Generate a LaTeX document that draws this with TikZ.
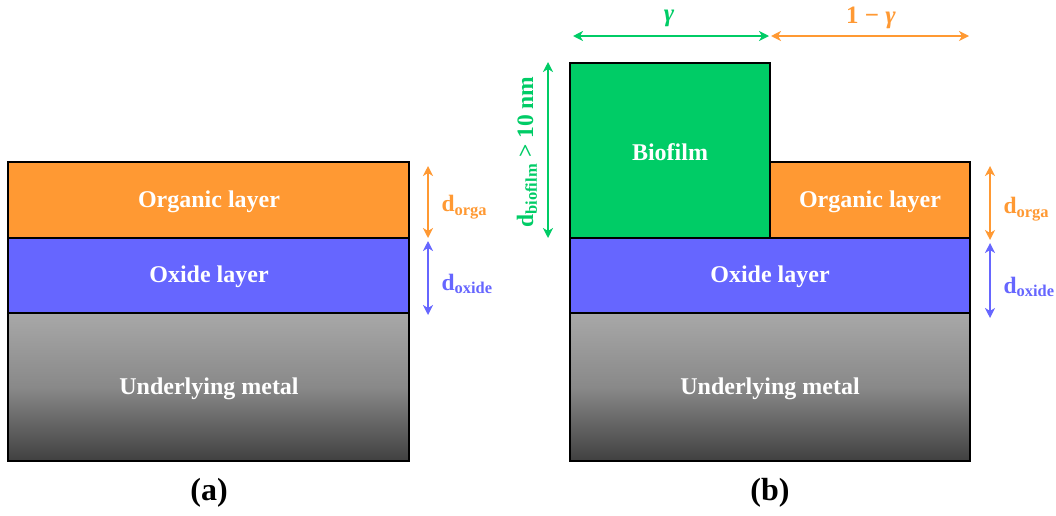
\documentclass[tikz,border=0pt]{standalone}
\usepackage{fontspec}
\setmainfont{Liberation Serif}
\usetikzlibrary{arrows.meta}
\definecolor{orga}{RGB}{255,153,51}
\definecolor{oxide}{RGB}{102,102,255}
\definecolor{bio}{RGB}{0,204,102}
\definecolor{mtop}{RGB}{168,168,168}
\definecolor{mbot}{RGB}{64,64,64}
\tikzset{
  layer/.style={draw=black, line width=1.2pt, inner sep=0pt},
  ltext/.style={text=white, font=\fontsize{24}{28}\selectfont\bfseries},
  dim/.style={line width=2pt, {Stealth[length=10pt,width=10pt,inset=3pt]}-{Stealth[length=10pt,width=10pt,inset=3pt]}},
  dlab/.style={font=\fontsize{23.5}{28}\selectfont\bfseries, anchor=west},
  captext/.style={font=\fontsize{32}{36}\selectfont\bfseries},
  toplab/.style={font=\fontsize{25}{28}\selectfont\bfseries},
}
\begin{document}
\begin{tikzpicture}[x=1pt,y=-1pt]
\useasboundingbox (0,0) rectangle (1056,515);
% (a)
\draw[layer, fill=orga] (8,162) rectangle (409,238);
\draw[layer, fill=oxide] (8,238) rectangle (409,313);
\draw[layer, top color=mtop, bottom color=mbot, middle color=mtop!70!mbot] (8,313) rectangle (409,461);
\node[ltext] (ta1) at (209,202) {Organic layer};
\node[ltext] (ta2) at (209,277) {Oxide layer};
\node[ltext] (ta3) at (209,389) {Underlying metal};
\node[captext] (capa) at (209,493) {(a)};
\coordinate (a1) at (428,166);
\coordinate (a2) at (428,238);
\coordinate (a3) at (428,241);
\coordinate (a4) at (428,315);
\draw[dim, orga] (a1) -- (a2);
\draw[dim, oxide] (a3) -- (a4);
\node[dlab, text=orga] (la1) at (438,207) {d\textsubscript{orga}};
\node[dlab, text=oxide] (la2) at (438,284) {d\textsubscript{oxide}};
% (b)
\draw[layer, fill=bio] (570,63) rectangle (770,238);
\draw[layer, fill=orga] (770,162) rectangle (970,238);
\draw[layer, fill=oxide] (570,238) rectangle (970,313);
\draw[layer, top color=mtop, bottom color=mbot, middle color=mtop!70!mbot] (570,313) rectangle (970,461);
\node[ltext] (tb0) at (670,152) {Biofilm};
\node[ltext] (tb1) at (870,202) {Organic layer};
\node[ltext] (tb2) at (770,277) {Oxide layer};
\node[ltext] (tb3) at (770,389) {Underlying metal};
\node[captext] (capb) at (770,493) {(b)};
\coordinate (b1) at (990,166);
\coordinate (b2) at (990,240);
\coordinate (b3) at (990,243);
\coordinate (b4) at (990,318);
\draw[dim, orga] (b1) -- (b2);
\draw[dim, oxide] (b3) -- (b4);
\node[dlab, text=orga] (lb1) at (1000,209) {d\textsubscript{orga}};
\node[dlab, text=oxide] (lb2) at (1000,287) {d\textsubscript{oxide}};
\coordinate (c1) at (548,62);
\coordinate (c2) at (548,238);
\draw[dim, bio] (c1) -- (c2);
\node[dlab, anchor=center, text=bio, rotate=90] (lc) at (527,152) {d\textsubscript{biofilm} > 10 nm};
\coordinate (g1) at (573,36);
\coordinate (g2) at (769,36);
\coordinate (g3) at (771,36);
\coordinate (g4) at (969,36);
\draw[dim, bio] (g1) -- (g2);
\draw[dim, orga] (g3) -- (g4);
\node[toplab, text=bio] (lg1) at (669,18) {\itshape γ};
\node[toplab, text=orga] (lg2) at (871,18) {1 − {\itshape γ}};
\end{tikzpicture}
\end{document}
